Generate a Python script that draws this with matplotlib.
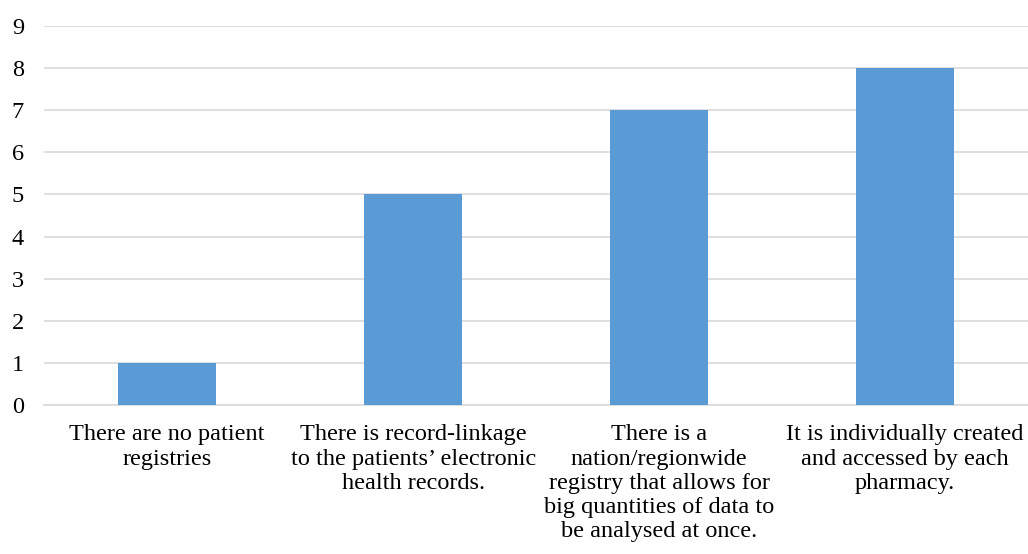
import matplotlib.pyplot as plt
import numpy as np

# answers and counts
categories = [
    "There are no patient\nregistries",
    "There is record-linkage\nto the patients\u2019 electronic\nhealth records.",
    "There is a\nnation/regionwide\nregistry that allows for\nbig quantities of data to\nbe analysed at once.",
    "It is individually created\nand accessed by each\npharmacy.",
]
counts = [1, 5, 7, 8]

plt.rcParams['font.family'] = ['Liberation Serif', 'DejaVu Serif']

fig = plt.figure(figsize=(10.28, 5.54), dpi=100)
ax = fig.add_axes([0.043, 0.269, 0.957, 0.684])

x = np.arange(len(counts))
ax.bar(x, counts, width=0.4, color='#5b9bd5', zorder=3)

ax.set_xlim(-0.5, len(counts) - 0.5)
ax.set_ylim(0, 9)
ax.set_yticks(range(0, 10))
ax.yaxis.grid(True, color='#d9d9d9', linewidth=1.2, zorder=0)

for s in ['top', 'right', 'left']:
    ax.spines[s].set_visible(False)
ax.spines['bottom'].set_color('#d9d9d9')
ax.spines['bottom'].set_linewidth(1.2)

ax.tick_params(axis='y', length=0, labelsize=17.5, pad=14.5)
ax.tick_params(axis='x', length=0, labelsize=17.5, pad=14)
ax.set_xticks(x)
ax.set_xticklabels(categories, linespacing=1.2)

fig.savefig("out.png", dpi=100)
